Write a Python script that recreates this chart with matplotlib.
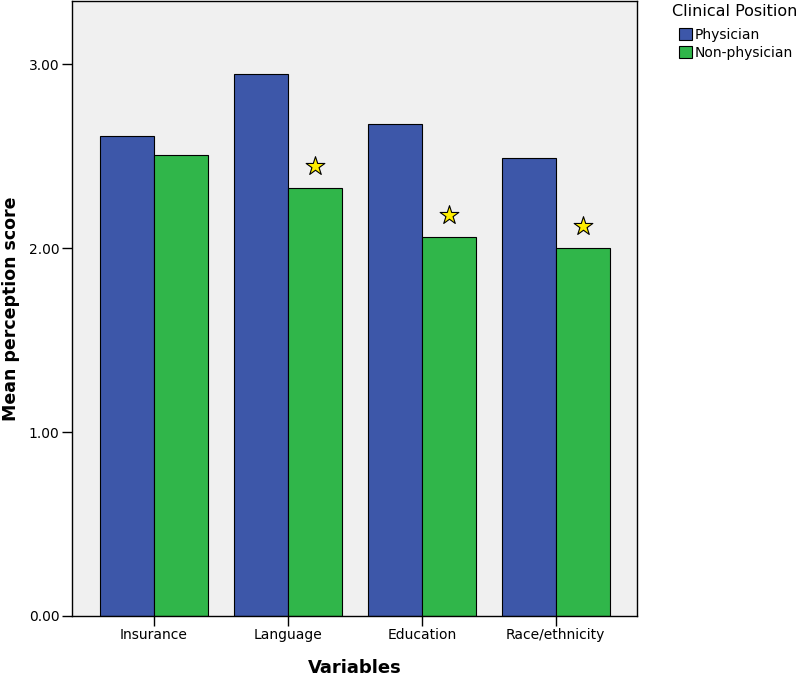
import numpy as np
import matplotlib.pyplot as plt

categories = ["Insurance", "Language", "Education", "Race/ethnicity"]
physician = [2.61, 2.95, 2.675, 2.49]
non_physician = [2.51, 2.33, 2.06, 2.00]
significant = [False, True, True, True]

blue = "#3d57a9"
green = "#30b64a"

fig = plt.figure(figsize=(8, 6.76), dpi=100)
ax = fig.add_axes([0.09, 0.0888, 0.706, 0.9097])
ax.set_facecolor("#f0f0f0")

x = np.arange(len(categories))
w = 0.405
ax.bar(x - w / 2, physician, w, color=blue, edgecolor="black", linewidth=0.8,
       label="Physician", zorder=2)
ax.bar(x + w / 2, non_physician, w, color=green, edgecolor="black", linewidth=0.8,
       label="Non-physician", zorder=2)

# significance stars above the non-physician bars
for i, (v, s) in enumerate(zip(non_physician, significant)):
    if s:
        ax.scatter(x[i] + w / 2, v + 0.12, marker="*", s=200, color="#ffee00",
                   edgecolor="black", linewidth=0.8, zorder=3)

ax.set_xlim(-0.612, 3.605)
ax.set_ylim(0, 3.345)
ax.set_xticks(x)
ax.set_xticklabels(categories, fontsize=10)
ax.set_yticks([0, 1, 2, 3])
ax.set_yticklabels(["0.00", "1.00", "2.00", "3.00"], fontsize=10)
ax.tick_params(axis="both", length=7, width=1, color="black", pad=2)
for sp in ax.spines.values():
    sp.set_color("black")
    sp.set_linewidth(1)

ax.set_xlabel("Variables", fontsize=13, fontweight="bold", labelpad=12)
ax.set_ylabel("Mean perception score", fontsize=12.5, fontweight="bold", labelpad=6)

# legend title drawn separately so the swatches sit indented under it
fig.text(672 / 800, 1 - 4 / 676, "Clinical Position", fontsize=11.5,
         ha="left", va="top")
leg = ax.legend(loc="upper left", bbox_to_anchor=(679 / 800, 1 - 28 / 676),
                bbox_transform=fig.transFigure,
                frameon=False, fontsize=10, handlelength=0.95,
                handleheight=0.95, handletextpad=0.15, borderaxespad=0.0,
                borderpad=0.0, labelspacing=0.3)

fig.savefig("out.png", dpi=100)
